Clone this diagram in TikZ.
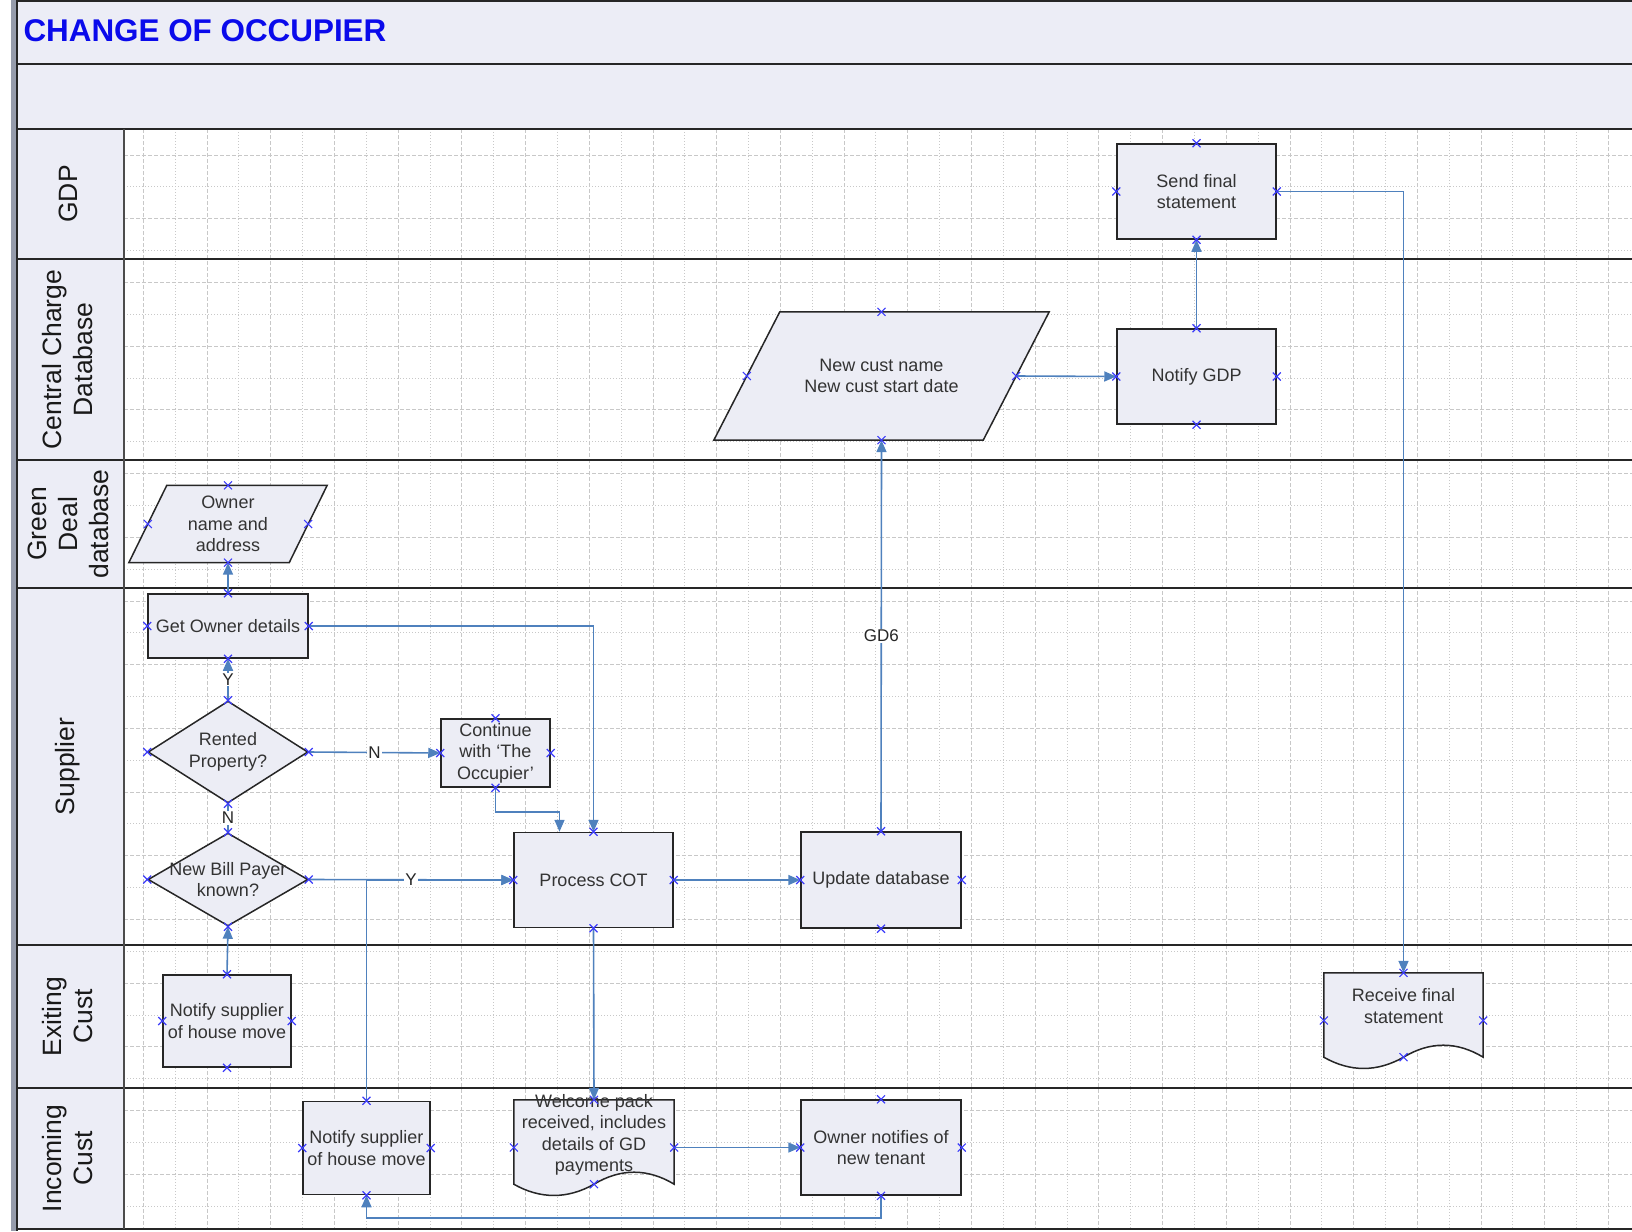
\documentclass[tikz,border=0pt]{standalone}
\usepackage{fontspec}
\setmainfont{Liberation Sans}
\usetikzlibrary{arrows.meta, shapes.geometric, calc}

\definecolor{bandfill}{RGB}{236,237,246}
\definecolor{shapefill}{RGB}{236,237,245}
\definecolor{flowblue}{RGB}{79,129,189}
\definecolor{markblue}{RGB}{60,60,250}
\definecolor{gridgray}{RGB}{200,200,200}
\definecolor{sidebar}{RGB}{150,156,172}
\definecolor{titleblue}{RGB}{10,10,235}

\pgfdeclarelayer{background}
\pgfsetlayers{background,main}

\newcommand\titlefont{\fontsize{31.4}{38}\selectfont\bfseries}
\newcommand\shapefont{\fontsize{18}{21.5}\selectfont}
\newcommand\lanefont{\fontsize{26.5}{31}\selectfont}
\newcommand\edgefont{\fontsize{17}{20}\selectfont}
\newcommand\uptext[1]{\raisebox{12.5pt}[\height][\depth]{\begin{tabular}{@{}c@{}}#1\end{tabular}}}
\newcommand\cpmark[1]{\draw[cpt] (#1) +(-4,-4) -- +(4,4) +(-4,4) -- +(4,-4);}

\tikzset{
  lane/.style={black!85, line width=2pt},
  lanelabel/.style={rotate=90, align=center, font=\lanefont, text=black!90},
  majorgrid/.style={gridgray, line width=0.8pt, dash pattern=on 4pt off 2pt},
  minorgrid/.style={gridgray, line width=0.8pt, dash pattern=on 1pt off 2pt},
  procbox/.style={draw=black!85, fill=shapefill, line width=1.5pt, align=center, font=\shapefont, text=black!80, inner sep=0pt},
  decision/.style={procbox, diamond, aspect=1.7, inner xsep=-18pt},
  iotext/.style={align=center, font=\shapefont, text=black!80, inner sep=0pt},
  doctext/.style={font=\shapefont, text=black!80, inner sep=0pt},
  outline/.style={draw=black!85, fill=shapefill, line width=1.5pt},
  flowline/.style={flowblue, line width=1.6pt},
  flow/.style={flowline, ->},
  elabel/.style={fill=white, font=\edgefont, text=black!85, inner sep=1pt},
  cpt/.style={markblue, line width=1.1pt},
}

\begin{document}
\begin{tikzpicture}[x=1pt, y=-1pt, >={Triangle[length=12pt,width=10pt]}]
\useasboundingbox (0,0) rectangle (1632,1231);

\begin{pgfonlayer}{background}
\foreach \k in {0,...,46} {
  \pgfmathsetmacro\gx{143.3+31.85*\k}
  \ifodd\k\relax \draw[minorgrid] (\gx,129) -- (\gx,1229); \else \draw[majorgrid] (\gx,129) -- (\gx,1229); \fi
}
\foreach \k in {0,...,33} {
  \pgfmathsetmacro\gy{155+31.85*\k}
  \ifodd\k\relax \draw[minorgrid] (124,\gy) -- (1632,\gy); \else \draw[majorgrid] (124,\gy) -- (1632,\gy); \fi
}
\end{pgfonlayer}

\fill[sidebar] (11,0) rectangle (16,1231);
\fill[bandfill] (17,1) rectangle (1632,129);
\fill[bandfill] (17,129) rectangle (124,1229);
\foreach \y in {1,64.5,129,259,460,588,945,1088,1229}
  \draw[lane] (17,\y) -- (1632,\y);
\draw[lane] (17,0) -- (17,1231);
\draw[lane, line width=1.6pt, black!70] (124,129) -- (124,1229);

\node[anchor=base west, font=\titlefont, text=titleblue] (title) at (20,41.5) {CHANGE OF OCCUPIER};

\node[lanelabel] (gdp) at (68,194) {GDP};
\node[lanelabel] (ccd) at (68,359.5) {Central Charge\\Database};
\node[lanelabel] (gdd) at (68,524) {Green\\Deal\\database};
\node[lanelabel] (sup) at (68,766.5) {Supplier};
\node[lanelabel] (exiting) at (68,1016.5) {Exiting\\Cust};
\node[lanelabel] (incoming) at (68,1158.5) {Incoming\\Cust};

\node[procbox, minimum width=159, minimum height=95] (sendfinal) at (1196.5,191.5) {Send final\\statement};
\node[procbox, minimum width=159, minimum height=95] (notifygdp) at (1196.5,376.5) {Notify GDP};
\node[iotext, minimum width=269, minimum height=128] (newcust) at (881.5,376) {New cust name\\New cust start date};
\node[iotext, minimum width=160, minimum height=77] (owner) at (228,524) {Owner\\name and\\address};
\node[procbox, minimum width=160, minimum height=64] (getowner) at (228,626) {Get Owner details};
\node[decision, minimum width=160, minimum height=102] (rented) at (228,752) {Rented\\Property?};
\node[procbox, minimum width=109, minimum height=68] (cont) at (495.5,753) {Continue\\with ‘The\\Occupier’};
\node[decision, minimum width=160, minimum height=93] (newbill) at (228,879.5) {New Bill Payer\\known?};
\node[procbox, minimum width=159, minimum height=95] (processcot) at (593.5,880) {Process COT};
\node[procbox, minimum width=160, minimum height=96] (updatedb) at (881,880) {Update database};
\node[procbox, minimum width=128, minimum height=92] (notifyexit) at (227,1021) {Notify supplier\\of house move};
\node[doctext, minimum width=159, minimum height=95] (receive) at (1403.5,1020.5) {\uptext{Receive final\\statement}};
\node[procbox, minimum width=127, minimum height=93] (notifyin) at (366.5,1148) {Notify supplier\\of house move};
\node[doctext, minimum width=160, minimum height=95] (welcome) at (594,1147.5) {\uptext{Welcome pack\\received, includes\\details of GD\\payments}};
\node[procbox, minimum width=160, minimum height=95] (ownnote) at (881,1147.5) {Owner notifies of\\new tenant};

\begin{pgfonlayer}{background}
\foreach \n/\s in {newcust/33, owner/19} {
  \draw[outline] ($(\n.north west)+(\s,0)$) -- ($(\n.north east)+(\s,0)$) -- ($(\n.south east)+(-\s,0)$) -- ($(\n.south west)+(-\s,0)$) -- cycle;
}
\foreach \n in {receive, welcome} {
  \draw[outline] (\n.north west) -- (\n.north east) -- ($(\n.south east)+(0,-11)$)
    .. controls ($(\n.south east)+(-26.5,-27)$) and ($(\n.south)+(26.5,-27)$) .. ($(\n.south)+(0,-11)$)
    .. controls ($(\n.south)+(-26.5,4)$) and ($(\n.south west)+(26.5,4)$) .. ($(\n.south west)+(0,-11)$) -- cycle;
}
\end{pgfonlayer}

\draw[flow] (getowner.north) -- (owner.south);
\draw[flow] (rented.north) -- node[elabel] (ylab) {Y} (getowner.south);
\draw[flowline] (rented.south) -- node[elabel] (nlab) {N} (newbill.north);
\draw[flow] (rented.east) -- node[elabel] (nolab) {N} (cont.west);
\draw[flow] (notifyin.north) |- (processcot.west);
\draw[flow] (newbill.east) -- node[elabel] (yeslab) {Y} (processcot.west);
\draw[flow] (getowner.east) -| (processcot.north);
\draw[flow] (cont.south) -- ++(0,24) -| ([xshift=-34]processcot.north);
\draw[flow] (notifyexit.north) -- (newbill.south);
\draw[flow] (processcot.east) -- (updatedb.west);
\draw[flow] (updatedb.north) -- node[elabel] (gdlab) {GD6} (newcust.south);
\draw[flow] (newcust.east) -- (notifygdp.west);
\draw[flow] (notifygdp.north) -- (sendfinal.south);
\draw[flow] (sendfinal.east) -| (receive.north);
\draw[flow] (processcot.south) -- (welcome.north);
\draw[flow] (welcome.east) -- (ownnote.west);
\draw[flow] (ownnote.south) -- ++(0,22) -| (notifyin.south);

\foreach \n in {sendfinal, notifygdp, newcust, owner, getowner, rented, cont, newbill, processcot, updatedb, notifyexit, notifyin, ownnote} {
  \foreach \a in {north, south, east, west} {
    \cpmark{\n.\a}
  }
}
\foreach \n in {receive, welcome} {
  \cpmark{\n.north} \cpmark{\n.east} \cpmark{\n.west}
  \cpmark{$(\n.south)+(0,-11)$}
}

\end{tikzpicture}
\end{document}
